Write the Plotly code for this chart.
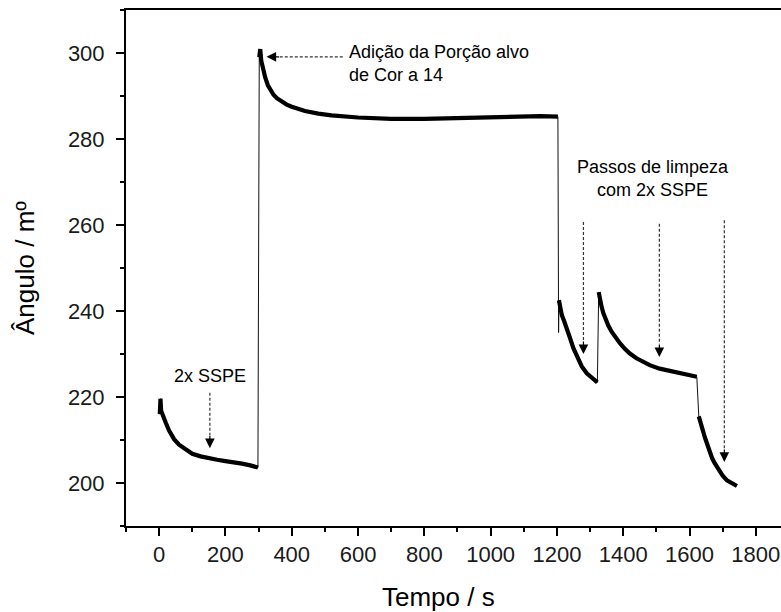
import plotly.graph_objects as go

# ---- data (time in s, angle in m°) ----
t_seg1 = [2, 4, 6, 10, 15, 20, 30, 45, 60, 80, 100, 125, 150, 175, 200, 225, 250, 275, 298]
v_seg1 = [216.0, 219.6, 216.8, 215.8, 214.8, 214.0, 212.2, 210.2, 208.9, 207.7, 206.8, 206.2, 205.7, 205.4, 205.1, 204.9, 204.5, 204.1, 203.6]

t_seg2 = [302, 305, 308, 312, 320, 328, 335, 345, 355, 370, 385, 400, 420, 440, 480, 520, 600, 700, 800, 900, 1000, 1100, 1150, 1203]
v_seg2 = [299.0, 300.9, 298.2, 296.5, 294.3, 292.5, 291.4, 290.3, 289.5, 288.6, 288.0, 287.5, 286.9, 286.5, 285.9, 285.5, 285.0, 284.7, 284.7, 284.9, 285.0, 285.2, 285.3, 285.2]

t_dip = [1205]
v_dip = [235.0]

t_seg3 = [1206, 1210, 1215, 1222, 1230, 1240, 1250, 1260, 1275, 1290, 1305, 1322]
v_seg3 = [242.5, 240.6, 239.0, 237.6, 236.0, 233.6, 231.3, 229.4, 227.1, 225.5, 224.4, 223.4]

t_seg4 = [1326, 1330, 1335, 1340, 1348, 1355, 1365, 1375, 1390, 1405, 1420, 1440, 1460, 1480, 1510, 1550, 1590, 1622]
v_seg4 = [244.4, 242.5, 240.9, 239.5, 237.8, 236.6, 235.2, 234.0, 232.5, 231.2, 230.1, 229.0, 228.1, 227.4, 226.6, 225.9, 225.3, 224.7]

t_seg5 = [1628, 1632, 1636, 1640, 1646, 1652, 1660, 1668, 1676, 1684, 1692, 1700, 1713, 1728, 1743]
v_seg5 = [215.5, 214.6, 213.4, 212.3, 210.7, 209.2, 207.4, 205.8, 204.6, 203.5, 202.5, 201.7, 200.6, 199.9, 199.3]

# annotation arrows: vertical ones (x, y_start, y_tip)
down_arrows_x = [153, 1280, 1509, 1705]
down_arrows_y0 = [221.0, 260.7, 260.3, 261.1]
down_arrows_y1 = [208.1, 230.0, 229.3, 204.9]
# horizontal arrow: (x_start, x_tip, y)
left_arrow = [554, 324, 299.1]

x_ticks = [0, 200, 400, 600, 800, 1000, 1200, 1400, 1600, 1800]
y_ticks = [200, 220, 240, 260, 280, 300]

FONT = "Liberation Sans, Arial, sans-serif"

t_all = t_seg1 + t_seg2 + t_dip + t_seg3 + t_seg4 + t_seg5
v_all = v_seg1 + v_seg2 + v_dip + v_seg3 + v_seg4 + v_seg5

fig = go.Figure()
# thin full trace (covers the fast jumps)
fig.add_trace(go.Scatter(x=t_all, y=v_all, mode="lines",
                         line=dict(color="#111111", width=1), showlegend=False, hoverinfo="skip"))
# thick noisy-band segments
for ts, vs in [(t_seg1, v_seg1), (t_seg2, v_seg2), (t_seg3, v_seg3), (t_seg4, v_seg4), (t_seg5, v_seg5)]:
    fig.add_trace(go.Scatter(x=ts, y=vs, mode="lines", line=dict(color="black", width=4.2),
                             showlegend=False, hoverinfo="skip"))

shapes = []
annotations = []
for x, y0, y1 in zip(down_arrows_x, down_arrows_y0, down_arrows_y1):
    shapes.append(dict(type="line", xref="x", yref="y", x0=x, x1=x, y0=y0, y1=y1 + 3.0,
                       line=dict(color="#333333", width=1.2, dash="3px,2px")))
    annotations.append(dict(x=x, y=y1, xref="x", yref="y", ax=0, ay=-14, text="", showarrow=True,
                            arrowhead=2, arrowsize=1.6, arrowwidth=1.2, arrowcolor="black"))

shapes.append(dict(type="line", xref="x", yref="y", x0=left_arrow[0], x1=left_arrow[1] + 35,
                   y0=left_arrow[2], y1=left_arrow[2],
                   line=dict(color="#333333", width=1.2, dash="3px,2px")))
annotations.append(dict(x=left_arrow[1], y=left_arrow[2], xref="x", yref="y", ax=14, ay=0, text="",
                        showarrow=True, arrowhead=2, arrowsize=1.6, arrowwidth=1.2, arrowcolor="black"))

annotations += [
    dict(x=153, y=224.9, xref="x", yref="y", text="2x SSPE", showarrow=False,
         font=dict(family=FONT, size=18, color="black")),
    dict(x=(347 - 159.3) / 0.3313, y=297.6, xref="x", yref="y", text="Adição da Porção alvo<br>de Cor a 14",
         showarrow=False, xanchor="left", yanchor="middle", align="left",
         font=dict(family=FONT, size=18, color="black")),
    dict(x=(653 - 159.3) / 0.3313, y=270.8, xref="x", yref="y", text="Passos de limpeza<br>com 2x SSPE",
         showarrow=False, xanchor="center", yanchor="middle", align="center",
         font=dict(family=FONT, size=18, color="black")),
    dict(x=(438 - 126) / 655, y=-(597 - 526) / 516, xref="paper", yref="paper", text="Tempo / s", showarrow=False,
         xanchor="center", yanchor="middle", font=dict(family=FONT, size=26, color="black")),
    dict(x=(25 - 126) / 655, y=0.5, xref="paper", yref="paper", text="Ângulo / mº", showarrow=False,
         textangle=-90, xanchor="center", yanchor="middle", font=dict(family=FONT, size=26, color="black")),
]

fig.update_layout(
    width=781, height=612,
    margin=dict(l=126, r=0, t=10, b=86),
    paper_bgcolor="white", plot_bgcolor="white",
    shapes=shapes, annotations=annotations,
    font=dict(family=FONT, size=22, color="#1a1a1a"),
    xaxis=dict(range=[-100, 1876], tickvals=x_ticks, ticks="outside", ticklen=8, tickwidth=1.5,
               tickcolor="black", showline=True, linecolor="black", linewidth=2, mirror=True,
               showgrid=False, zeroline=False, automargin=False,
               minor=dict(dtick=100, tick0=0, ticks="outside", ticklen=4, tickwidth=1.5, tickcolor="black"),
               tickfont=dict(family=FONT, size=22, color="#1a1a1a")),
    yaxis=dict(range=[190, 310], tickvals=y_ticks, ticks="outside", ticklen=8, tickwidth=1.5,
               tickcolor="black", showline=True, linecolor="black", linewidth=2, mirror=False,
               showgrid=False, zeroline=False, automargin=False, ticklabelstandoff=7,
               minor=dict(dtick=10, tick0=190, ticks="outside", ticklen=4, tickwidth=1.5, tickcolor="black"),
               tickfont=dict(family=FONT, size=22, color="#1a1a1a")),
)

fig.write_html("out.html", config={"displayModeBar": False},
               post_script="document.body.style.margin='0px';document.body.style.overflow='hidden';")
